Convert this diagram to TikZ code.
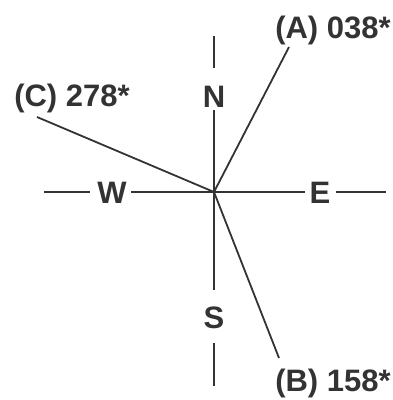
\documentclass[tikz,border=0pt]{standalone}
\usepackage{fontspec}
\setmainfont{Liberation Sans}
\definecolor{ink}{HTML}{333333}
\begin{document}
\begin{tikzpicture}[x=1pt,y=-1pt,
  lbl/.style={font=\bfseries\fontsize{31}{33}\selectfont, text=ink, inner sep=0pt},
  ln/.style={draw=ink, line width=1.8pt}]
\useasboundingbox[fill=white] (0,0) rectangle (393,400);
\coordinate (O) at (214,192);
% compass letters
\node[lbl] (N) at (214,97) {N};
\node[lbl] (S) at (214,318) {S};
\node[lbl] (W) at (112,193) {W};
\node[lbl] (E) at (320,193) {E};
\coordinate (Nt) at (214,36);
\coordinate (Nb) at (214,68);
\coordinate (Nc) at (214,110);
\coordinate (St) at (214,290);
\coordinate (Sb) at (214,343);
\coordinate (Se) at (214,386);
\coordinate (Wl) at (44,192);
\coordinate (Wr) at (90,192);
\coordinate (Wc) at (131,192);
\coordinate (Ec) at (305,192);
\coordinate (El) at (336,192);
\coordinate (Er) at (386,192);
\draw[ln] (Nt) -- (Nb);
\draw[ln] (Nc) -- (O) -- (St);
\draw[ln] (Sb) -- (Se);
\draw[ln] (Wl) -- (Wr);
\draw[ln] (Wc) -- (O) -- (Ec);
\draw[ln] (El) -- (Er);
% bearings
\coordinate (Ae) at (289,47);
\coordinate (Be) at (279,358);
\coordinate (Ce) at (37,117);
\draw[ln] (O) -- (Ae);
\draw[ln] (O) -- (Be);
\draw[ln] (O) -- (Ce);
\node[lbl] (A) at (333,30) {(A) 038*};
\node[lbl] (B) at (333,383) {(B) 158*};
\node[lbl] (C) at (72,98) {(C) 278*};
\end{tikzpicture}
\end{document}
